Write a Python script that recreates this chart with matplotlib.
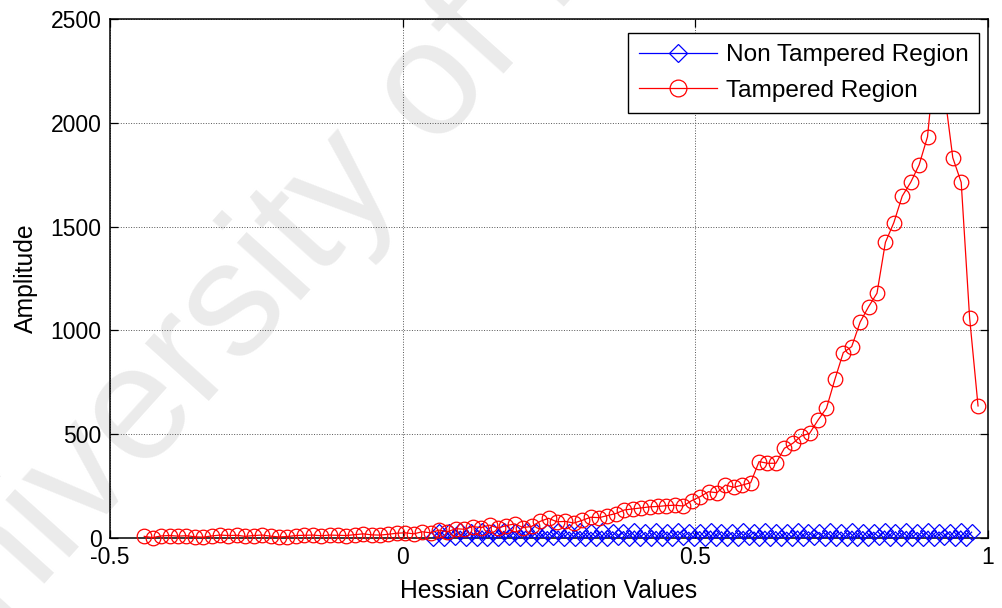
import numpy as np
import matplotlib
matplotlib.use("Agg")
import matplotlib.pyplot as plt

plt.rcParams['font.family'] = ['Liberation Sans', 'DejaVu Sans']

# Histogram of Hessian correlation values (100 bins each)
tampered_x = np.linspace(-0.4415, 0.983, 100)
tampered_counts = [
    8, 2, 10, 12, 9, 11, 6, 4, 10, 14,
    12, 13, 8, 12, 14, 9, 5, 7, 12, 13,
    14, 11, 14, 13, 12, 16, 20, 15, 14, 18,
    23, 25, 20, 30, 25, 38, 30, 45, 42, 55,
    50, 62, 48, 60, 68, 50, 56, 80, 95, 78,
    80, 72, 85, 100, 98, 108, 118, 135, 140, 145,
    150, 152, 156, 158, 154, 180, 199, 223, 218, 255,
    244, 255, 266, 368, 360, 360, 432, 456, 491, 504,
    568, 625, 764, 893, 922, 1040, 1114, 1179, 1424, 1519,
    1647, 1713, 1797, 1933, 2350, 2150, 1832, 1713, 1060, 636,
]

non_tampered_x = np.linspace(0.052, 0.972, 100)
non_tampered_counts = [
    2, 30, 0, 28, 3, 33, 1, 29, 0, 34,
    2, 27, 0, 32, 4, 30, 0, 33, 2, 28,
    1, 31, 3, 34, 0, 29, 2, 32, 0, 28,
    2, 33, 1, 30, 3, 31, 0, 34, 2, 27,
    0, 32, 2, 29, 1, 33, 3, 28, 0, 31,
    2, 34, 0, 30, 2, 27, 1, 32, 3, 29,
    0, 33, 2, 31, 0, 28, 2, 34, 1, 30,
    3, 27, 0, 32, 2, 29, 0, 33, 2, 31,
    1, 28, 3, 34, 0, 30, 2, 32, 0, 27,
    2, 33, 1, 29, 3, 31, 0, 34, 2, 28,
]

series_labels = ["Non Tampered Region", "Tampered Region"]
x_ticks = [-0.5, 0, 0.5, 1]
x_tick_labels = ["-0.5", "0", "0.5", "1"]
y_ticks = [0, 500, 1000, 1500, 2000, 2500]

W, H = 1002, 608
fig = plt.figure(figsize=(W / 100, H / 100), dpi=100)
fig.patch.set_facecolor('white')

# faint diagonal watermark behind the plot
fig.text(-78 / W, -112 / H, "University of Malaya", rotation=48,
         rotation_mode='anchor', ha='left', va='baseline',
         fontsize=118, color='#ebebeb', zorder=-5)

ax = fig.add_axes([110 / W, 70 / H, (988 - 110) / W, (538 - 19) / H])
ax.set_facecolor('none')

ax.plot(non_tampered_x, non_tampered_counts, color='#0000ff', lw=0.9,
        marker='D', markersize=8, mfc='none', mec='#0000ff', mew=0.9,
        label=series_labels[0], zorder=3, clip_on=False)
ax.plot(tampered_x, tampered_counts, color='#ff0000', lw=0.9,
        marker='o', markersize=10.5, mfc='none', mec='#ff0000', mew=0.9,
        label=series_labels[1], zorder=4, clip_on=False)

ax.set_xlim(-0.5, 1)
ax.set_ylim(0, 2500)
ax.set_xticks(x_ticks)
ax.set_xticklabels(x_tick_labels)
ax.set_yticks(y_ticks)
ax.tick_params(direction='in', length=6, width=0.9, top=True, right=True,
               labelsize=16.5, pad=6, colors='black')
ax.grid(True, linestyle=':', color='#555555', lw=0.7)
for sp in ax.spines.values():
    sp.set_linewidth(1.1)
    sp.set_color('black')

ax.set_xlabel("Hessian Correlation Values", fontsize=17.8, labelpad=7)
ax.set_ylabel("Amplitude", fontsize=17.8, labelpad=9)

leg = ax.legend(loc='upper right', bbox_to_anchor=(979.3 / W, 1 - 33.3 / H),
                bbox_transform=fig.transFigure, borderaxespad=0,
                fontsize=17.6, frameon=True, fancybox=False, framealpha=1,
                edgecolor='black', handlelength=3.2, handletextpad=0.35,
                borderpad=0.45, labelspacing=0.55, markerscale=1.15)
leg.get_frame().set_linewidth(1.0)
leg.set_zorder(10)

fig.savefig("out.png", dpi=100, facecolor='white')
